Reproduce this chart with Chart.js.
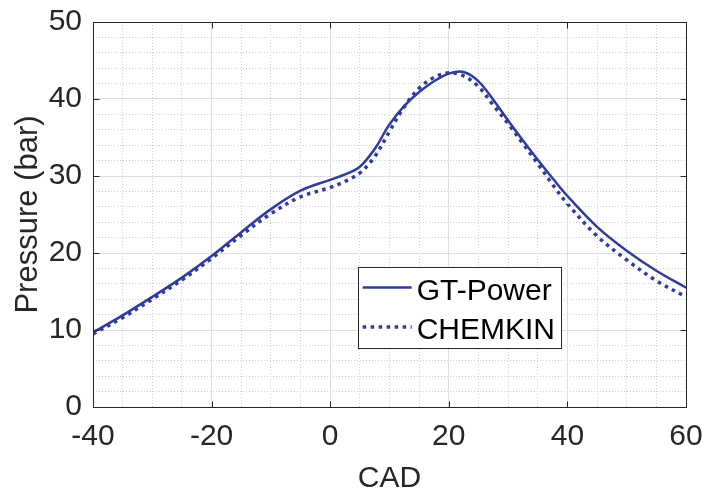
<!DOCTYPE html>
<html><head><meta charset="utf-8">
<script src="https://cdn.jsdelivr.net/npm/chart.js@4/dist/chart.umd.min.js"></script>
<style>html,body{margin:0;padding:0;background:#fff;}canvas{display:block}</style>
</head><body>
<canvas id="c" width="705" height="494" style="width:705px;height:494px"></canvas>
<script>
const cad = [-40,-35,-30,-25,-20,-15,-10,-5,0,2.5,5,7.5,10,12.5,15,17.5,20,22.5,25,27.5,30,32.5,35,37.5,40,45,50,55,60];
const gtPower = [9.7,11.9,14.3,16.8,19.6,22.7,25.7,28.1,29.5,30.2,31.2,33.5,36.7,39.1,40.9,42.3,43.3,43.5,42.3,39.9,37.2,34.6,32.1,29.7,27.4,23.4,20.3,17.7,15.5];
const chemkin = [9.5,11.6,14.0,16.5,19.3,22.3,25.1,27.3,28.5,29.3,30.4,32.5,35.8,39.0,41.4,42.8,43.4,43.0,41.6,39.2,36.8,34.2,31.6,28.9,26.4,22.2,19.1,16.4,14.3];
const xTicks = [-40,-20,0,20,40,60];
const yTicks = [0,10,20,30,40,50];
const seriesNames = ['GT-Power','CHEMKIN'];
const xTitle = 'CAD';
const yTitle = 'Pressure (bar)';

const FONT = "'Liberation Sans', Arial, sans-serif";
const BLUE = '#2f3c9c';
const AX = '#262626';

const framePlugin = {
  id: 'frame',
  afterDatasetsDraw(chart) {
    const {ctx, chartArea: a} = chart;
    ctx.save();
    ctx.font = '30px ' + FONT;
    const tw = Math.max(...seriesNames.map(s => ctx.measureText(s).width));
    const bw = 5 + 49 + 5 + tw + 6, bh = 81;
    const bx = a.right - 125 - bw, by = a.top + 244.5;
    ctx.fillStyle = '#fff';
    ctx.fillRect(bx, by, bw, bh);
    ctx.strokeStyle = AX; ctx.lineWidth = 1;
    ctx.strokeRect(Math.round(bx) + 0.5, Math.round(by) + 0.5, Math.round(bw), Math.round(bh));
    chart.data.datasets.forEach((ds, i) => {
      const ly = by + 21 + i * 39.5;
      ctx.beginPath();
      ctx.strokeStyle = ds.borderColor;
      ctx.lineWidth = ds.borderWidth;
      ctx.setLineDash(ds.borderDash || []);
      ctx.moveTo(bx + 5, ly); ctx.lineTo(bx + 54, ly);
      ctx.stroke();
      ctx.setLineDash([]);
      ctx.fillStyle = '#000';
      ctx.textBaseline = 'alphabetic';
      ctx.textAlign = 'left';
      ctx.fillText(ds.label, bx + 59, ly + 12);
    });
    ctx.restore();
  },
  afterDraw(chart) {
    const {ctx, chartArea: a, scales: {x, y}} = chart;
    ctx.save();
    ctx.strokeStyle = AX; ctx.lineWidth = 1;
    const L = Math.round(a.left) + 0.5, R = Math.round(a.right) + 0.5, T = Math.round(a.top) + 0.5, B = Math.round(a.bottom) + 0.5;
    ctx.strokeRect(L, T, R - L, B - T);
    ctx.beginPath();
    xTicks.forEach(v => {
      const p = Math.round(x.getPixelForValue(v)) + 0.5;
      ctx.moveTo(p, B); ctx.lineTo(p, B - 6);
      ctx.moveTo(p, T); ctx.lineTo(p, T + 6);
    });
    yTicks.forEach(v => {
      const p = Math.round(y.getPixelForValue(v)) + 0.5;
      ctx.moveTo(L, p); ctx.lineTo(L + 6, p);
      ctx.moveTo(R, p); ctx.lineTo(R - 6, p);
    });
    ctx.stroke();
    ctx.restore();
  }
};

function noPad(s) { s.paddingTop = 0; s.paddingBottom = 0; s.paddingLeft = 0; s.paddingRight = 0; }

new Chart(document.getElementById('c'), {
  type: 'line',
  data: {
    datasets: [
      {label: seriesNames[0], data: cad.map((v, i) => ({x: v, y: gtPower[i]})),
       borderColor: BLUE, borderWidth: 2.5, pointRadius: 0, fill: false, tension: 0.35},
      {label: seriesNames[1], data: cad.map((v, i) => ({x: v, y: chemkin[i]})),
       borderColor: BLUE, borderWidth: 3.5, borderDash: [3.5, 4.5], pointRadius: 0, fill: false, tension: 0.35}
    ]
  },
  options: {
    responsive: false, animation: false, devicePixelRatio: 1,
    layout: {padding: {left: 0, right: 19, top: 22, bottom: 0}},
    plugins: {legend: {display: false}, tooltip: {enabled: false}},
    scales: {
      xMinor: {
        type: 'linear', position: 'bottom', min: -40, max: 60, z: -2,
        ticks: {display: false, stepSize: 5},
        grid: {color: '#cdcdcd', drawTicks: false, lineWidth: 1},
        border: {display: false, dash: [1, 2]},
        afterFit(s) { s.height = 0; noPad(s); }
      },
      yMinor: {
        type: 'linear', position: 'left', min: 0, max: 50, z: -2,
        ticks: {display: false, stepSize: 2},
        grid: {color: '#cdcdcd', drawTicks: false, lineWidth: 1},
        border: {display: false, dash: [1, 2]},
        afterFit(s) { s.width = 0; noPad(s); }
      },
      x: {
        type: 'linear', position: 'bottom', min: -40, max: 60, z: -1,
        afterBuildTicks(s) { s.ticks = xTicks.map(v => ({value: v})); },
        ticks: {color: AX, font: {family: FONT, size: 30}, padding: 12, maxRotation: 0, autoSkip: false},
        grid: {color: '#dedede', drawTicks: false, lineWidth: 1},
        border: {display: false},
        title: {display: true, text: xTitle, color: AX, font: {family: FONT, size: 30, lineHeight: 1}, padding: {top: 9, bottom: 0}},
        afterFit(s) { s.height = 87; noPad(s); }
      },
      y: {
        type: 'linear', position: 'left', min: 0, max: 50, z: -1,
        afterBuildTicks(s) { s.ticks = yTicks.map(v => ({value: v})); },
        ticks: {color: AX, font: {family: FONT, size: 30}, padding: 11},
        grid: {color: '#dedede', drawTicks: false, lineWidth: 1},
        border: {display: false},
        title: {display: true, text: yTitle, color: AX, font: {family: FONT, size: 31}, padding: {top: 10, bottom: 0}},
        afterFit(s) { s.width = 93; noPad(s); }
      }
    }
  },
  plugins: [framePlugin]
});
</script>
</body></html>
